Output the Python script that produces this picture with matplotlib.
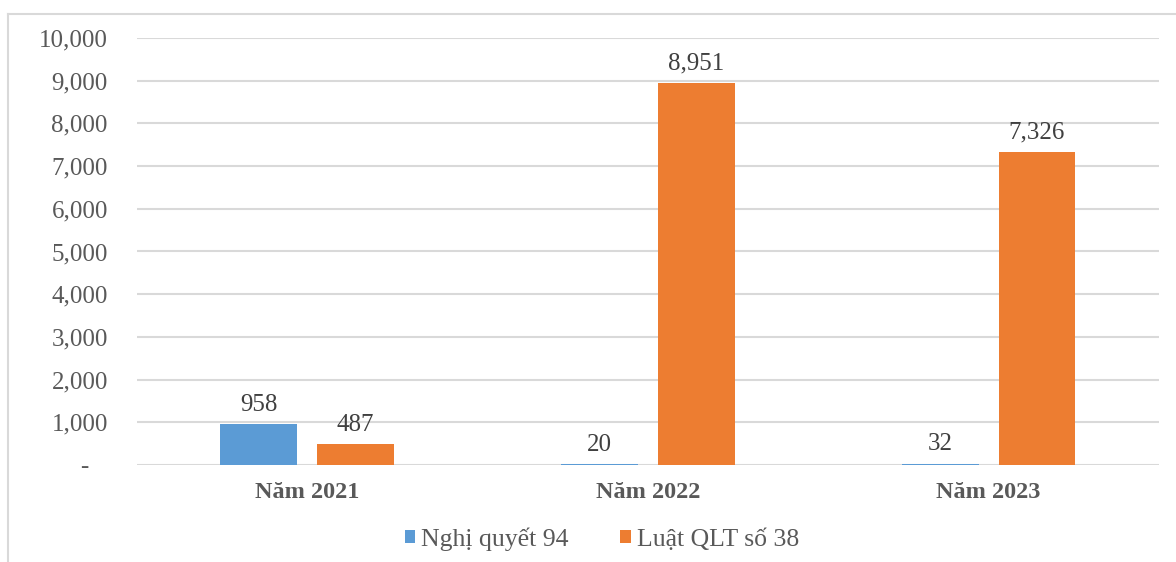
import matplotlib.pyplot as plt
import numpy as np
from matplotlib.lines import Line2D

# ---------------------------
# Data
# ---------------------------
categories = ["Năm 2021", "Năm 2022", "Năm 2023"]
series_names = ["Nghị quyết 94", "Luật QLT số 38"]
nghi_quyet_94 = [958, 20, 32]
luat_qlt_38 = [487, 8951, 7326]
y_ticks = [0, 1000, 2000, 3000, 4000, 5000, 6000, 7000, 8000, 9000, 10000]

BLUE = "#5B9BD5"
ORANGE = "#ED7D31"
TEXT = "#595959"
GRID = "#D9D9D9"

plt.rcParams["font.family"] = ["Liberation Serif", "DejaVu Serif"]

fig = plt.figure(figsize=(11.76, 5.62), dpi=100)
ax = fig.add_axes([0.1165, 0.1726, 0.869, 0.7598])

x = np.arange(len(categories))
width = 0.226
offset = 0.142

b1 = ax.bar(x - offset, nghi_quyet_94, width, color=BLUE, label=series_names[0], zorder=3)
b2 = ax.bar(x + offset, luat_qlt_38, width, color=ORANGE, label=series_names[1], zorder=3)

for bars in (b1, b2):
    for rect in bars:
        h = rect.get_height()
        ax.annotate(f"{h:,.0f}", (rect.get_x() + rect.get_width() / 2, h),
                    xytext=(0, 6), textcoords="offset points",
                    ha="center", va="bottom", fontsize=18, color="#404040")

ax.set_xlim(-0.5, 2.5)
ax.set_ylim(0, 10000)
ax.set_yticks(y_ticks)
ax.set_yticklabels(["-   "] + [f"{v:,}" for v in y_ticks[1:]])
ax.set_xticks(x)
ax.set_xticklabels(categories, fontweight="bold")
ax.tick_params(axis="y", length=0, pad=21, labelsize=18, labelcolor=TEXT)
ax.tick_params(axis="x", length=0, pad=12, labelsize=17.5, labelcolor=TEXT)
ax.grid(axis="y", color=GRID, linewidth=1.5, zorder=0)
for s in ax.spines.values():
    s.set_visible(False)

ax.legend(loc="lower center", bbox_to_anchor=(0.455, -0.255), ncol=2, frameon=False,
          fontsize=18.5, handlelength=0.4, handleheight=0.4, handletextpad=0.25,
          columnspacing=2.0, labelcolor=TEXT)

# outer frame (left and top border of the chart box)
fig.add_artist(Line2D([8 / 1176, 8 / 1176], [0, 1 - 14 / 562], color=GRID, linewidth=1.5))
fig.add_artist(Line2D([8 / 1176, 1], [1 - 14 / 562, 1 - 14 / 562], color=GRID, linewidth=1.5))

plt.savefig("out.png", dpi=100)
plt.close()
